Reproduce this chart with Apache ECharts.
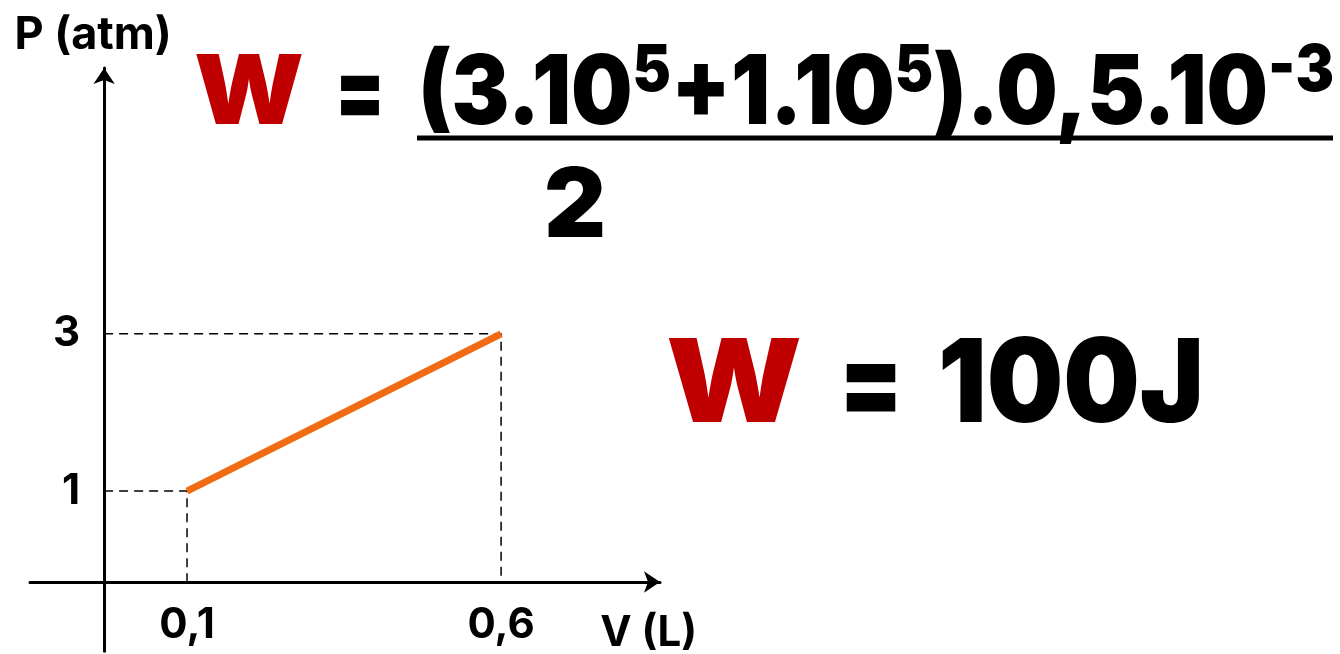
<!DOCTYPE html>
<html>
<head>
<meta charset="utf-8">
<script src="https://cdn.jsdelivr.net/npm/echarts@6/dist/echarts.min.js"></script>
<style>
  html, body { margin: 0; padding: 0; background: #fff; }
  #chart-container { width: 1340px; height: 654px; }
</style>
</head>
<body>
<div id="chart-container"></div>
<script>
// process data: V (L) -> P (atm)
const volumes = [0.1, 0.6];
const pressures = [1, 3];
const xTicks = [0.1, 0.6];
const yTicks = [1, 3];
// where the two axes cross, in data units
const originX = -0.032;
const originY = -0.16;

const xMin = -0.15, xMax = 0.853;
const yMin = -1.038, yMax = 6.38;

// W = (3.10^5 + 1.10^5) . 0,5.10^-3 / 2  ->  W = 100J
const numerParts = [
  ['n', '(3.10'], ['s', '5'], ['n', '+1.10'], ['s', '5'],
  ['n', ').0,5.10'], ['s', '-3'],
];
const denominator = '2';
const resultValue = '100J';

const FONT = 'Inter, "Noto Sans", sans-serif';
const RED = '#C00000';

const initChart = () => {
  const dom = document.getElementById('chart-container');
  return echarts.init(dom, null, { renderer: 'canvas' });
};

// measure text so the formulas can be squeezed to the width they take in the slide
const measure = (() => {
  const ctx = document.createElement('canvas').getContext('2d');
  return (text, size) => {
    ctx.font = '900 ' + size + 'px ' + FONT;
    return ctx.measureText(text).width;
  };
})();

// one piece of formula text, left edge at x, stretched to the given width
const piece = (text, x, y, width, size, color, extraRich) => {
  const rich = Object.assign({
    t: { fill: color, fontFamily: FONT, fontWeight: 900, fontSize: size, lineHeight: 110 },
  }, extraRich || {});
  const plain = text.replace(/\{\w\|/g, '').replace(/\}/g, '');
  let w = 0;
  text.replace(/\{(\w)\|([^}]*)\}/g, (m, k, s) => { w += measure(s, rich[k].fontSize); });
  if (!w) w = measure(plain, size);
  return {
    type: 'text',
    x: x,
    y: y,
    scaleX: width / w,
    style: { text: text, rich: rich },
  };
};

const renderChart = (chart) => {
  const grid = { left: 30, top: 68, width: 630, height: 586 };
  // shift axis lines from the grid edge to the crossing point
  const yOffset = -((originX - xMin) / (xMax - xMin)) * grid.width;
  const xOffset = -((originY - yMin) / (yMax - yMin)) * grid.height;

  const linePts = volumes.map((v, i) => [v, pressures[i]]);
  const guides = volumes.map((v, i) => [
    [originX, pressures[i]],
    [v, pressures[i]],
    [v, originY],
  ]);

  const label = v => String(v).replace('.', ',');
  const tickFont = { color: '#000', fontFamily: FONT, fontWeight: 700, fontSize: 42 };

  const MAIN = 96, SUP = 64, RES = 116;
  const supRich = {
    s: { fill: '#000', fontFamily: FONT, fontWeight: 900, fontSize: SUP, lineHeight: 78, verticalAlign: 'top' },
  };
  const numerText = numerParts.map(p => '{' + (p[0] === 's' ? 's' : 't') + '|' + p[1] + '}').join('');

  chart.setOption({
    animation: false,
    grid: grid,
    xAxis: {
      type: 'value',
      min: xMin,
      max: xMax,
      offset: xOffset,
      splitLine: { show: false },
      axisTick: { show: false },
      axisLine: {
        show: true,
        onZero: false,
        symbol: ['none', 'arrow'],
        symbolSize: [16, 16],
        lineStyle: { color: '#000', width: 3 },
      },
      axisLabel: Object.assign({ customValues: xTicks, formatter: label, margin: 22 }, tickFont),
      name: 'V (L)',
      nameLocation: 'end',
      nameGap: 37,
      nameTextStyle: Object.assign({ align: 'right', verticalAlign: 'top', padding: [30, 0, 0, 0] }, tickFont),
    },
    yAxis: {
      type: 'value',
      min: yMin,
      max: yMax,
      offset: yOffset,
      splitLine: { show: false },
      axisTick: { show: false },
      axisLine: {
        show: true,
        onZero: false,
        symbol: ['none', 'arrow'],
        symbolSize: [16, 16],
        lineStyle: { color: '#000', width: 3 },
      },
      axisLabel: Object.assign({ customValues: yTicks, margin: 24 }, tickFont),
      name: 'P (atm)',
      nameLocation: 'end',
      nameGap: 10,
      nameTextStyle: Object.assign({}, tickFont, { fontSize: 45, padding: [0, 22, 0, 0] }),
    },
    series: [
      ...guides.map(g => ({
        type: 'line',
        data: g,
        symbol: 'none',
        silent: true,
        lineStyle: { color: '#000', width: 1.5, type: [9, 6] },
      })),
      {
        type: 'line',
        data: linePts,
        symbol: 'none',
        lineStyle: { color: '#F26A12', width: 7 },
        z: 5,
      },
    ],
    graphic: [
      // top formula
      piece('{t|W}', 194, 40, 110, MAIN, RED),
      piece('{t|=}', 335, 40, 50, MAIN, '#000'),
      piece(numerText, 418, 40, 916, MAIN, '#000', supRich),
      {
        type: 'line',
        shape: { x1: 417, y1: 138, x2: 1333, y2: 138 },
        style: { stroke: '#000', lineWidth: 5 },
      },
      {
        type: 'text',
        x: 575,
        y: 208,
        style: {
          text: denominator,
          fill: '#000',
          font: '900 96px ' + FONT,
          align: 'center',
          verticalAlign: 'middle',
        },
      },
      // result
      piece('{t|W}', 666, 332, 136, RES, RED),
      piece('{t|=}', 839, 332, 64, RES, '#000'),
      piece('{t|' + resultValue + '}', 938, 332, 266, RES, '#000'),
    ],
  });
};

const chart = initChart();
renderChart(chart);
</script>
</body>
</html>
